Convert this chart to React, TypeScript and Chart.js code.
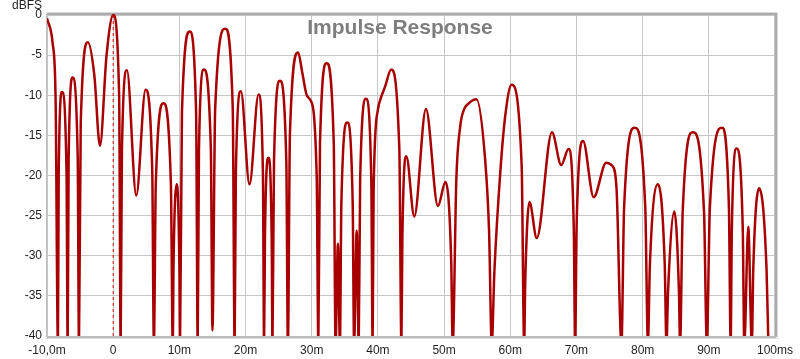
import React, { useEffect, useRef } from 'react';
import { Chart, registerables } from 'chart.js';

Chart.register(...registerables);

// Impulse response trace (time in ms, level in dBFS).
// Values below the -40 dB floor are nulls that fall off the bottom of the plot.
const impulseTimesMs = [
  -10, -9.15, -8.7, -8.35, -8.23, -7.73, -7.05, -6.88, -6.73, -6.13, -5.36, -5.17,
  -4.9, -3.82, -2.85, -2.0, -1.0, 0, 0.9, 1.13, 1.32, 2.08, 3.49, 4.89, 5.9, 6.15,
  6.44, 7.6, 8.72, 9.0, 9.12, 9.6, 10.0, 10.1, 10.39, 11.57, 12.53, 12.77, 12.96, 13.7,
  14.76, 15.0, 15.41, 16.94, 18.07, 18.35, 18.54, 19.3, 20.6, 21.96, 22.63, 22.8,
  22.93, 23.46, 23.95, 24.07, 24.3, 25.2, 26.16, 26.4, 26.71, 27.94, 28.6, 29.3, 29.8,
  30.75, 31.0, 31.25, 32.25, 33.33, 33.6, 33.96, 34.26, 34.48, 35.37, 36.19, 36.4,
  36.8, 37.1, 37.32, 38.2, 39.0, 39.2, 39.35, 40.0, 40.4, 41.1, 42.0, 43.24, 43.55,
  43.7, 44.3, 45.5, 47.26, 49.07, 50.2, 51.08, 51.3, 51.85, 52.45, 53.0, 53.6, 54.9,
  56.2, 56.8, 57.2, 57.6, 58.5, 59.25, 60.2, 61.72, 62.1, 62.26, 62.9, 64.0, 66.3,
  67.7, 68.8, 69.6, 69.8, 70.04, 71.0, 72.6, 74.5, 75.4, 76.05, 76.8, 77.2, 78.8,
  80.4, 80.8, 81.1, 82.3, 83.34, 83.6, 83.84, 84.8, 85.49, 85.66, 86.05, 87.6, 89.28,
  89.7, 90.16, 91.99, 93.04, 93.3, 93.48, 94.2, 95.13, 95.36, 95.96, 96.5, 96.72,
  97.6, 98.72, 99.0,
];

const impulseLevelsDb = [
  -0.4, -3.5, -10.5, -41, -19.6, -9.6, -19.6, -41, -17.8, -7.8, -17.8, -41,
  -13.4, -3.4, -7.5, -16.3, -5, 0, -10, -41, -16.9, -6.9, -22.5, -9.3, -19.3, -41,
  -21, -11.0, -21, -41, -31, -21.1, -31, -41, -12.1, -2.07, -12.1, -41, -16.8, -6.8,
  -16.8, -39.3, -11.7, -1.7, -11.7, -41, -19.5, -9.5, -21.1, -9.9, -19.9, -41,
  -27.8, -17.8, -27.8, -41, -18.2, -8.2, -18.2, -41, -14.7, -4.67, -7.3, -10.1, -10.6,
  -20, -41, -16, -6.0, -16, -41, -28.5, -41, -23.4, -13.4, -23.4, -41,
  -26.9, -41, -20.45, -10.45, -20.45, -41, -22, -11.8, -10.45, -8.9, -6.8, -16.8, -41,
  -27.6, -17.6, -25.1, -11.7, -23.8, -20.8, -30.8, -41, -20.5, -13.8, -11.8, -11.1, -10.5,
  -18.0, -27, -41, -32, -19.5, -12.5, -8.7, -18.7, -41, -33.3, -23.3, -27.8, -14.6,
  -18.7, -16.7, -26.7, -41, -25.7, -15.7, -22.7, -18.4, -18.8, -21.5, -41, -24, -14.05,
  -24, -41, -31.1, -21.1, -31.1, -41, -34.5, -24.5, -34.5, -41, -24.6, -14.6, -24.6,
  -41, -24, -14.05, -24, -41, -26.65, -16.65, -26.65, -41, -26.4, -41, -31.6,
  -21.6, -31.6, -41,
];

// Dashed marker at t = 0
const markerTimesMs = [0, 0];
const markerLevelsDb = [0, -40];

const xTickValues = [-10, 0, 10, 20, 30, 40, 50, 60, 70, 80, 90, 100];
const xTickLabels = ['-10,0m', '0', '10m', '20m', '30m', '40m', '50m', '60m', '70m', '80m', '90m', '100ms'];
const yTickValues = [0, -5, -10, -15, -20, -25, -30, -35, -40];
const yTickLabels = ['0', '-5', '-10', '-15', '-20', '-25', '-30', '-35', '-40'];

const chartTitle = 'Impulse Response';
const yUnitLabel = 'dBFS';

const FONT = '"Liberation Sans", Arial, Helvetica, sans-serif';

export default function App() {
  const canvasRef = useRef<HTMLCanvasElement | null>(null);

  useEffect(() => {
    const canvas = canvasRef.current;
    if (!canvas) return;

    const framePlugin = {
      id: 'rewFrame',
      beforeDatasetsDraw(chart: any) {
        const { ctx, chartArea } = chart;
        const { left, top, right, bottom } = chartArea;
        ctx.save();
        // light outer shade
        ctx.strokeStyle = '#dadada';
        ctx.lineWidth = 1;
        ctx.beginPath();
        ctx.moveTo(left - 1, top - 2.5);
        ctx.lineTo(right + 2.5, top - 2.5);
        ctx.lineTo(right + 2.5, bottom + 2.5);
        ctx.lineTo(left - 1, bottom + 2.5);
        ctx.stroke();
        // main frame
        ctx.strokeStyle = '#ababab';
        ctx.lineWidth = 2;
        ctx.beginPath();
        ctx.moveTo(left, top - 1);
        ctx.lineTo(right + 1, top - 1);
        ctx.lineTo(right + 1, bottom + 1);
        ctx.stroke();
        ctx.strokeStyle = '#bcbcbc';
        ctx.beginPath();
        ctx.moveTo(right + 1, bottom + 1);
        ctx.lineTo(left, bottom + 1);
        ctx.stroke();
        ctx.lineWidth = 1;
        ctx.beginPath();
        ctx.moveTo(left - 0.5, top - 1);
        ctx.lineTo(left - 0.5, bottom + 1);
        ctx.stroke();
        ctx.restore();
      },
      afterDraw(chart: any) {
        const { ctx, chartArea } = chart;
        ctx.save();
        ctx.fillStyle = '#7e7e7e';
        ctx.font = `bold 21px ${FONT}`;
        ctx.textAlign = 'center';
        ctx.textBaseline = 'alphabetic';
        ctx.fillText(chartTitle, chart.width / 2, chartArea.top + 19);
        ctx.fillStyle = '#1e1e1e';
        ctx.font = `12px ${FONT}`;
        ctx.textAlign = 'right';
        ctx.fillText(yUnitLabel, chartArea.left - 5, chartArea.top - 6);
        ctx.restore();
      },
    };

    const chart = new Chart(canvas, {
      type: 'line',
      data: {
        datasets: [
          {
            data: impulseTimesMs.map((t, i) => ({ x: t, y: impulseLevelsDb[i] })),
            borderColor: '#a80000',
            borderWidth: 2.5,
            pointRadius: 0,
            fill: false,
            cubicInterpolationMode: 'monotone',
            clip: { left: 0, right: 0, top: 3, bottom: 0 } as any,
          },
          {
            data: markerTimesMs.map((t, i) => ({ x: t, y: markerLevelsDb[i] })),
            borderColor: '#cc1010',
            borderWidth: 1,
            borderDash: [3, 3],
            pointRadius: 0,
            tension: 0,
            fill: false,
          },
        ],
      },
      options: {
        responsive: false,
        animation: false,
        events: [],
        layout: { padding: { left: 0, right: 22, top: 15, bottom: 0 } },
        plugins: {
          legend: { display: false },
          tooltip: { enabled: false },
          title: { display: false },
        },
        scales: {
          x: {
            type: 'linear',
            min: -10,
            max: 100,
            afterBuildTicks: (scale: any) => {
              scale.ticks = xTickValues.map((v) => ({ value: v }));
            },
            afterFit: (scale: any) => {
              scale.height = 23;
            },
            ticks: {
              autoSkip: false,
              maxRotation: 0,
              padding: 7,
              color: '#1e1e1e',
              font: { family: FONT, size: 12 },
              callback: (value: any) => {
                const i = xTickValues.indexOf(Number(value));
                return i >= 0 ? xTickLabels[i] : '';
              },
            },
            grid: { color: '#c6c6c6', lineWidth: 1, drawTicks: false },
            border: { display: false },
          },
          y: {
            type: 'linear',
            min: -40,
            max: 0,
            afterBuildTicks: (scale: any) => {
              scale.ticks = yTickValues.map((v) => ({ value: v }));
            },
            afterFit: (scale: any) => {
              scale.width = 47;
            },
            ticks: {
              autoSkip: false,
              padding: 5,
              color: '#1e1e1e',
              font: { family: FONT, size: 12 },
              callback: (value: any) => {
                const i = yTickValues.indexOf(Number(value));
                return i >= 0 ? yTickLabels[i] : '';
              },
            },
            grid: { color: '#c6c6c6', lineWidth: 1, drawTicks: false },
            border: { display: false },
          },
        },
      } as any,
      plugins: [framePlugin],
    });

    return () => {
      chart.destroy();
    };
  }, []);

  return (
    <div style={{ position: 'absolute', left: 0, top: 0, width: 800, height: 359, background: '#ffffff' }}>
      <canvas ref={canvasRef} width={800} height={359} style={{ display: 'block', width: 800, height: 359 }} />
    </div>
  );
}
